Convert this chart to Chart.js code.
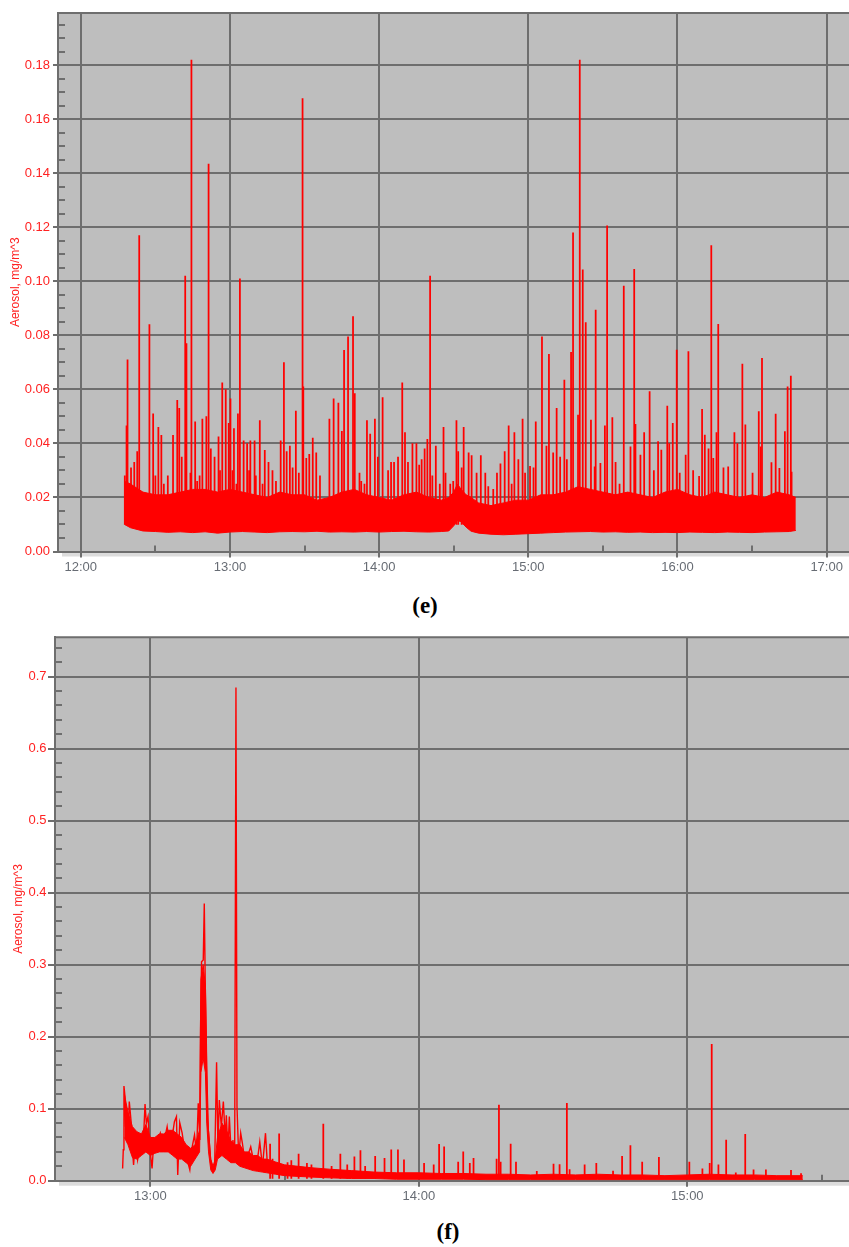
<!DOCTYPE html>
<html>
<head>
<meta charset="utf-8">
<title>Aerosol (e) / (f)</title>
<script src="https://cdn.jsdelivr.net/npm/chart.js@4.4.1/dist/chart.umd.min.js"></script>
<style>
  html, body { margin: 0; padding: 0; background: #fff; width: 849px; height: 1247px; overflow: hidden; }
  .panel { position: absolute; left: 0; width: 852px; height: 590px; }
  #panelE { top: 0; }
  #panelF { top: 624px; }
  .caption { position: absolute; width: 120px; text-align: center; font: bold 23px "Liberation Serif", "Times New Roman", serif; color: #000; line-height: 24px; }
  #capE { left: 365px; top: 594px; }
  #capF { left: 388px; top: 1220px; }
</style>
</head>
<body>
<div class="panel" id="panelE"><canvas id="chartE" width="852" height="590"></canvas></div>
<div class="caption" id="capE">(e)</div>
<div class="panel" id="panelF"><canvas id="chartF" width="852" height="590"></canvas></div>
<div class="caption" id="capF">(f)</div>

<script>
// Tiempos en minutos desde medianoche, valores en mg/m^3

// ---- (e) ----
const eXTickLabels = ['12:00', '13:00', '14:00', '15:00', '16:00', '17:00'];
const eXMinorLabels = ['12:30', '13:30', '14:30', '15:30', '16:30'];
const eYTicks = [0, 0.02, 0.04, 0.06, 0.08, 0.10, 0.12, 0.14, 0.16, 0.18];

// cuerpo denso de la señal (envolvente inferior / superior)
const eBandTimes = [737.6, 740, 745, 750, 755, 760, 765, 770, 775, 780, 785, 790, 795, 800, 805, 810, 815, 820, 825, 830,
  835, 840, 845, 850, 855, 860, 865, 868, 870, 871.5, 873, 875, 877, 880, 885, 890, 895, 900, 905, 910,
  915, 920, 925, 930, 935, 940, 945, 950, 955, 960, 965, 970, 975, 980, 985, 990, 995, 1000, 1005, 1007.6];
const eBandLow = [0.010, 0.0088, 0.0076, 0.0074, 0.0071, 0.0073, 0.0070, 0.0073, 0.0068, 0.0072, 0.0074, 0.0072, 0.0070, 0.0073, 0.0074, 0.0073, 0.0075, 0.0072, 0.0073, 0.0072,
  0.0074, 0.0072, 0.0074, 0.0075, 0.0073, 0.0072, 0.0074, 0.0076, 0.0095, 0.0115, 0.0110, 0.0090, 0.0075, 0.0068, 0.0064, 0.0062, 0.0064, 0.0066, 0.0068, 0.0070,
  0.0072, 0.0073, 0.0074, 0.0072, 0.0073, 0.0071, 0.0072, 0.0070, 0.0071, 0.0070, 0.0072, 0.0071, 0.0070, 0.0072, 0.0071, 0.0070, 0.0072, 0.0073, 0.0074, 0.0078];
const eBandHigh = [0.026, 0.025, 0.022, 0.021, 0.021, 0.022, 0.023, 0.023, 0.022, 0.023, 0.022, 0.021, 0.020, 0.022, 0.021, 0.021, 0.019, 0.020, 0.022, 0.023,
  0.021, 0.020, 0.019, 0.021, 0.022, 0.020, 0.019, 0.020, 0.022, 0.025, 0.023, 0.021, 0.020, 0.018, 0.017, 0.018, 0.019, 0.019, 0.021, 0.021,
  0.022, 0.024, 0.023, 0.022, 0.021, 0.022, 0.021, 0.020, 0.022, 0.023, 0.021, 0.020, 0.022, 0.021, 0.020, 0.021, 0.020, 0.022, 0.021, 0.020];

// picos
const eSpikeTimes = [737.7, 738.4, 738.8, 740.2, 741.5, 742.7, 743.5, 747.6, 749.1, 750.0, 751.2, 752.4, 753.4, 755.0, 757.1, 758.8, 759.6, 760.6, 762.0, 762.5,
  764.1, 764.5, 766.0, 766.8, 767.8, 768.9, 770.5, 771.4, 772.3, 773.8, 775.4, 776.0, 776.9, 778.3, 779.5, 780.2, 781.0, 781.6, 782.6, 783.2,
  784.0, 785.5, 786.9, 787.7, 788.2, 789.9, 790.4, 792.0, 793.1, 794.0, 795.5, 797.1, 798.5, 800.4, 801.7, 802.8, 804.1, 805.2, 806.5, 807.7,
  809.2, 809.5, 810.7, 811.9, 813.3, 814.7, 816.2, 820.0, 821.7, 823.6, 825.0, 825.9, 827.5, 829.5, 830.2, 832.1, 832.8, 834.1, 835.1, 836.4,
  838.3, 839.5, 841.4, 843.6, 844.8, 846.0, 847.6, 849.3, 850.4, 851.6, 853.4, 855.0, 856.1, 857.1, 858.3, 859.4, 860.5, 861.4, 862.8, 864.4,
  865.9, 866.7, 868.6, 869.8, 871.1, 871.8, 873.2, 874.0, 876.0, 877.2, 879.2, 880.9, 882.7, 883.9, 885.9, 887.4, 888.8, 890.5, 892.1, 893.3,
  894.4, 896.0, 897.7, 898.7, 900.7, 902.1, 903.0, 905.5, 907.3, 908.3, 910.0, 911.4, 912.8, 914.5, 915.5, 917.2, 918.0, 920.0, 920.7, 921.9,
  923.1, 925.2, 926.7, 927.1, 929.0, 930.8, 931.7, 933.8, 935.1, 936.7, 938.4, 941.1, 942.6, 943.1, 945.1, 946.6, 948.8, 950.5, 952.2, 953.5,
  955.9, 956.7, 958.1, 959.7, 960.9, 963.3, 964.4, 966.3, 968.7, 969.9, 971.0, 972.5, 973.6, 974.4, 975.7, 976.4, 978.5, 980.4, 982.9, 984.1,
  986.1, 987.3, 990.2, 992.7, 993.5, 994.0, 997.8, 999.5, 1001.0, 1003.2, 1004.3, 1005.6, 1005.9];
const eSpikePeaks = [0.028, 0.0465, 0.071, 0.031, 0.033, 0.037, 0.117, 0.084, 0.051, 0.028, 0.046, 0.043, 0.025, 0.028, 0.043, 0.056, 0.053, 0.035, 0.102, 0.077,
  0.029, 0.182, 0.048, 0.026, 0.028, 0.049, 0.050, 0.1435, 0.038, 0.035, 0.0425, 0.030, 0.0625, 0.060, 0.0475, 0.0565, 0.030, 0.0455, 0.025, 0.051,
  0.101, 0.041, 0.040, 0.030, 0.041, 0.041, 0.028, 0.0485, 0.025, 0.0375, 0.033, 0.030, 0.026, 0.041, 0.070, 0.037, 0.039, 0.031, 0.052, 0.029,
  0.1677, 0.061, 0.0345, 0.036, 0.042, 0.0365, 0.028, 0.049, 0.0565, 0.055, 0.0445, 0.0745, 0.0795, 0.087, 0.0585, 0.029, 0.026, 0.025, 0.0485, 0.0435,
  0.049, 0.035, 0.057, 0.030, 0.033, 0.033, 0.035, 0.0625, 0.044, 0.033, 0.040, 0.040, 0.032, 0.034, 0.038, 0.0415, 0.102, 0.028, 0.039, 0.025,
  0.046, 0.029, 0.025, 0.026, 0.0485, 0.037, 0.031, 0.046, 0.0365, 0.0355, 0.029, 0.0355, 0.029, 0.024, 0.023, 0.029, 0.0325, 0.037, 0.0465, 0.025,
  0.044, 0.034, 0.049, 0.029, 0.0315, 0.031, 0.048, 0.0795, 0.039, 0.073, 0.0365, 0.053, 0.035, 0.0635, 0.034, 0.0738, 0.118, 0.0505, 0.182, 0.1043,
  0.0848, 0.0487, 0.0314, 0.0894, 0.0327, 0.0465, 0.1206, 0.0496, 0.033, 0.025, 0.0983, 0.0388, 0.1045, 0.0471, 0.0357, 0.044, 0.0592, 0.030, 0.0407, 0.0376,
  0.0539, 0.040, 0.0475, 0.0746, 0.029, 0.0357, 0.074, 0.030, 0.0278, 0.0527, 0.0431, 0.038, 0.1133, 0.0345, 0.044, 0.0841, 0.031, 0.0314, 0.044, 0.040,
  0.0694, 0.0469, 0.029, 0.0518, 0.0388, 0.0715, 0.0329, 0.0509, 0.0308, 0.0444, 0.061, 0.065, 0.0294];

// ---- (f) ----
const fXTickLabels = ['13:00', '14:00', '15:00'];
const fXMinorLabels = ['13:30', '14:30', '15:30'];
const fYTicks = [0, 0.1, 0.2, 0.3, 0.4, 0.5, 0.6, 0.7];

// tramo inicial (traza continua)
const fLineTimes = [773.8, 773.95, 774.10, 774.33, 774.46, 774.77, 775.07, 775.29, 775.67, 775.96, 776.25, 776.64, 777.15, 777.76, 778.36, 778.81, 779.10, 779.48, 779.84, 780.38,
  780.74, 781.50, 782.24, 782.98, 783.75, 784.33, 784.87, 785.38, 785.83, 786.12, 786.57, 787.11, 787.63, 788.23, 788.82, 789.35, 789.87, 790.32, 790.70, 791.06,
  791.21, 791.44, 791.82, 792.05, 792.27, 792.49, 792.72, 793.01, 793.46, 793.97, 794.36, 794.80, 795.10, 795.41, 795.86, 796.31, 796.76, 796.98, 797.34, 797.65,
  798.10, 798.46, 798.84, 799.13, 799.36, 799.74, 800.19, 800.57, 801.08, 801.69, 802.43, 803.17, 803.93, 804.45, 805.05, 805.73, 806.18];
const fLineValues = [0.017, 0.043, 0.1315, 0.117, 0.075, 0.094, 0.066, 0.110, 0.084, 0.047, 0.022, 0.0565, 0.029, 0.052, 0.043, 0.1065, 0.080, 0.089, 0.047, 0.017,
  0.052, 0.043, 0.066, 0.052, 0.075, 0.047, 0.061, 0.082, 0.089, 0.008, 0.0805, 0.066, 0.043, 0.029, 0.015, 0.047, 0.0635, 0.038, 0.1075, 0.0565,
  0.209, 0.304, 0.3065, 0.385, 0.272, 0.200, 0.084, 0.066, 0.029, 0.015, 0.0195, 0.1645, 0.047, 0.112, 0.075, 0.110, 0.0565, 0.091, 0.038, 0.089,
  0.033, 0.0565, 0.029, 0.685, 0.103, 0.033, 0.066, 0.052, 0.029, 0.033, 0.047, 0.024, 0.029, 0.054, 0.0195, 0.066, 0.0195];

// cuerpo denso (envolventes) desde el inicio hasta el final
const fBandTimes = [774.2, 775, 776, 777, 778, 779, 780, 781, 782, 783, 784, 785, 786, 787, 788, 789, 790, 791.0, 791.3, 791.8,
  792.3, 792.6, 793.0, 793.5, 794.0, 794.5, 795, 796, 797, 798, 799, 800, 801, 802, 803, 804, 805, 806, 808, 810,
  813, 816, 820, 825, 830, 835, 840, 845, 850, 855, 860, 865, 870, 875, 880, 885, 890, 895, 900, 905,
  910, 915, 920, 925.8];
const fBandLow = [0.060, 0.050, 0.032, 0.030, 0.035, 0.040, 0.035, 0.038, 0.040, 0.040, 0.040, 0.035, 0.030, 0.030, 0.025, 0.020, 0.030, 0.040, 0.150, 0.170,
  0.150, 0.080, 0.040, 0.015, 0.010, 0.015, 0.030, 0.035, 0.030, 0.025, 0.025, 0.020, 0.018, 0.016, 0.014, 0.013, 0.012, 0.011, 0.009, 0.007,
  0.006, 0.005, 0.004, 0.003, 0.003, 0.002, 0.002, 0.002, 0.002, 0.0015, 0.0015, 0.0015, 0.0015, 0.0015, 0.0015, 0.0015, 0.0015, 0.0015, 0.0015, 0.0015,
  0.0015, 0.0015, 0.0015, 0.0015];
const fBandHigh = [0.120, 0.095, 0.075, 0.068, 0.065, 0.078, 0.060, 0.060, 0.065, 0.065, 0.070, 0.070, 0.065, 0.060, 0.050, 0.045, 0.050, 0.070, 0.280, 0.300,
  0.270, 0.160, 0.070, 0.030, 0.020, 0.030, 0.060, 0.080, 0.070, 0.055, 0.050, 0.050, 0.040, 0.040, 0.035, 0.035, 0.030, 0.030, 0.026, 0.022,
  0.020, 0.018, 0.016, 0.014, 0.012, 0.011, 0.011, 0.010, 0.010, 0.009, 0.009, 0.008, 0.009, 0.008, 0.009, 0.008, 0.008, 0.007, 0.008, 0.009,
  0.008, 0.008, 0.007, 0.007];

// picos de la cola
const fSpikeTimes = [806.76, 807.3, 808.78, 810.66, 811.5, 813.13, 814.99, 816.0, 818.65, 820.5, 822.46, 824.0, 825.60, 826.95, 828.0, 830.24, 832.33, 833.83, 835.33, 836.68,
  841.17, 843.32, 844.53, 845.65, 848.79, 849.92, 851.39, 852.22, 857.38, 857.90, 858.28, 860.52, 861.71, 866.36, 870.10, 871.45, 873.08, 873.69, 877.05, 879.66,
  883.40, 885.42, 887.28, 889.91, 893.65, 900.45, 903.37, 905.00, 905.45, 906.95, 908.68, 910.83, 912.94, 914.80, 917.56, 923.17, 925.41];
const fSpikePeaks = [0.051, 0.030, 0.065, 0.025, 0.028, 0.037, 0.024, 0.022, 0.0787, 0.020, 0.037, 0.022, 0.033, 0.0417, 0.020, 0.034, 0.031, 0.043, 0.043, 0.029,
  0.024, 0.022, 0.0505, 0.047, 0.026, 0.040, 0.024, 0.031, 0.030, 0.105, 0.026, 0.051, 0.026, 0.013, 0.023, 0.0225, 0.1075, 0.0155, 0.022, 0.024,
  0.0135, 0.034, 0.0487, 0.026, 0.0325, 0.026, 0.0165, 0.024, 0.1894, 0.022, 0.0565, 0.011, 0.0644, 0.015, 0.015, 0.0145, 0.010];

const RED = '#ff0000';
const LABEL_RED = '#ff2222';
const GRID = '#6e6e6e';
const PLOT_BG = '#bebebe';
const SHADOW = '#dcdcdc';
const FONT = '"Liberation Sans", Arial, sans-serif';

const toMin = s => { const [h, m] = s.split(':').map(Number); return h * 60 + m; };
const fmtTime = v => `${Math.floor(v / 60)}:${String(Math.round(v % 60)).padStart(2, '0')}`;
const pairs = (xs, ys) => xs.map((x, i) => ({ x, y: ys[i] }));

// fondo gris, sombra bajo el eje, marcas menores y borde superior
const plotFrame = {
  id: 'plotFrame',
  beforeDraw(chart) {
    const { ctx, chartArea: a } = chart;
    ctx.save();
    ctx.fillStyle = SHADOW;
    ctx.fillRect(a.left + 4, a.bottom, a.width, 5);
    ctx.fillStyle = PLOT_BG;
    ctx.fillRect(a.left, a.top, a.width, a.height);
    ctx.restore();
  },
  beforeDatasetsDraw(chart, args, opts) {
    const { ctx, chartArea: a, scales: { x, y } } = chart;
    ctx.save();
    ctx.strokeStyle = GRID;
    ctx.lineWidth = 2;
    ctx.beginPath();
    const n = Math.floor(y.max / opts.yMinorStep + 1e-6);
    for (let i = 1; i <= n; i++) {
      const v = i * opts.yMinorStep;
      const r = v / opts.yMajorStep;
      if (Math.abs(r - Math.round(r)) < 1e-6) continue;
      const py = Math.round(y.getPixelForValue(v));
      ctx.moveTo(a.left, py);
      ctx.lineTo(a.left + 7, py);
    }
    opts.xMinor.forEach(l => {
      const px = Math.round(x.getPixelForValue(toMin(l)));
      ctx.moveTo(px, a.bottom);
      ctx.lineTo(px, a.bottom - 6);
    });
    ctx.moveTo(a.left, a.top);
    ctx.lineTo(a.right, a.top);
    ctx.stroke();
    ctx.restore();
  }
};

function buildChart(canvasId, cfg) {
  const datasets = [];
  datasets.push({
    type: 'line', data: pairs(cfg.bandTimes, cfg.bandLow),
    borderColor: RED, borderWidth: 1, pointRadius: 0, fill: false
  });
  datasets.push({
    type: 'line', data: pairs(cfg.bandTimes, cfg.bandHigh),
    borderColor: RED, borderWidth: 1, pointRadius: 0, fill: '-1', backgroundColor: RED
  });
  if (cfg.lineTimes) {
    datasets.push({
      type: 'line', data: pairs(cfg.lineTimes, cfg.lineValues),
      borderColor: RED, borderWidth: 1.4, pointRadius: 0, fill: false
    });
  }
  datasets.push({
    type: 'bar',
    data: cfg.spikeTimes.map((t, i) => ({ x: t, y: [cfg.spikeBase, cfg.spikePeaks[i]] })),
    backgroundColor: RED, borderWidth: 0, barThickness: 1.1
  });

  return new Chart(document.getElementById(canvasId), {
    type: 'bar',
    data: { datasets },
    options: {
      responsive: false,
      animation: false,
      events: [],
      layout: { padding: { top: cfg.padTop, left: 0, right: 0, bottom: 0 } },
      plugins: {
        legend: { display: false },
        tooltip: { enabled: false },
        plotFrame: { yMinorStep: cfg.yMinorStep, yMajorStep: cfg.yTicks[1], xMinor: cfg.xMinor }
      },
      scales: {
        x: {
          type: 'linear', min: cfg.xMin, max: cfg.xMax, offset: false,
          afterBuildTicks: s => { s.ticks = cfg.xTickLabels.map(l => ({ value: toMin(l) })); },
          afterFit: s => { s.height = cfg.xAxisHeight; },
          grid: { offset: false, color: GRID, lineWidth: 2, tickLength: 6, tickColor: GRID, tickWidth: 2 },
          border: { color: GRID, width: 2 },
          ticks: {
            color: '#676c74', font: { family: FONT, size: 13 }, padding: 2,
            maxRotation: 0, autoSkip: false, callback: v => fmtTime(v)
          }
        },
        y: {
          type: 'linear', min: 0, max: cfg.yMax,
          afterBuildTicks: s => { s.ticks = cfg.yTicks.map(v => ({ value: v })); },
          afterFit: s => { s.width = cfg.yAxisWidth; },
          grid: { color: GRID, lineWidth: 2, tickLength: cfg.yTickLength, tickColor: GRID, tickWidth: 2 },
          border: { color: GRID, width: 2 },
          ticks: {
            color: LABEL_RED, font: { family: FONT, size: 13 }, padding: cfg.yTickPadding,
            callback: v => v.toFixed(cfg.yDecimals)
          },
          title: {
            display: true, text: 'Aerosol, mg/m^3', color: LABEL_RED,
            font: { family: FONT, size: 12 }, padding: { top: cfg.titlePad, bottom: 0 }
          }
        }
      }
    },
    plugins: [plotFrame]
  });
}

buildChart('chartE', {
  bandTimes: eBandTimes, bandLow: eBandLow, bandHigh: eBandHigh,
  spikeTimes: eSpikeTimes, spikePeaks: eSpikePeaks, spikeBase: 0.01,
  xTickLabels: eXTickLabels, xMinor: eXMinorLabels, xMin: 710.83, xMax: 1030.2,
  yTicks: eYTicks, yMax: 0.19944, yMinorStep: 0.005, yDecimals: 2,
  padTop: 13, xAxisHeight: 38.5, yAxisWidth: 58, yTickLength: 5, yTickPadding: 3, titlePad: 8
});

buildChart('chartF', {
  bandTimes: fBandTimes, bandLow: fBandLow, bandHigh: fBandHigh,
  lineTimes: fLineTimes, lineValues: fLineValues,
  spikeTimes: fSpikeTimes, spikePeaks: fSpikePeaks, spikeBase: 0.003,
  xTickLabels: fXTickLabels, xMinor: fXMinorLabels, xMin: 758.69, xMax: 936.8,
  yTicks: fYTicks, yMax: 0.7547, yMinorStep: 0.02, yDecimals: 1,
  padTop: 13.3, xAxisHeight: 33.3, yAxisWidth: 55, yTickLength: 7, yTickPadding: 1.5, titlePad: 11
});
</script>
</body>
</html>
